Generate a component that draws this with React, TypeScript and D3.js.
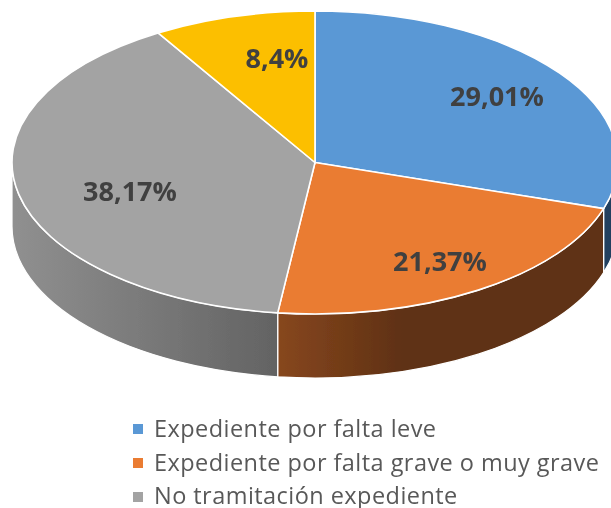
import React from "react";
import * as d3 from "d3";

const categories = ["Expediente por falta leve", "Expediente por falta grave o muy grave", "No tramitación expediente", "Otros"];
const values = [29.01, 21.37, 38.17, 8.4];
const valueLabels = ["29,01%", "21,37%", "38,17%", "8,4%"];
const colors = ["#5a98d5", "#ea7b31", "#a3a3a3", "#fcbf00"];
const wallStops = [
  ["#21405e", "#21405e"],
  ["#87471f", "#5f3112"],
  ["#909090", "#636363"],
  ["#997300", "#997300"],
];
const labelPos = [[497, 96], [440, 261], [130, 191], [277, 58]];
const legendY = [429, 463, 497];
const legendBaseline = [436.5, 470.5, 503.6];

const W = 611, H = 508;
const cx = 315, cy = 162.5, rx = 303, ry = 151.5, depth = 64;

const px = (a: number) => cx + rx * Math.sin(a);
const py = (a: number) => cy - ry * Math.cos(a);

export default function App() {
  const arcs = d3.pie<number>().sort(null)(values);
  const q = Math.PI / 2;
  return (
    <svg width={W} height={H} style={{ position: "fixed", left: 0, top: 0, background: "#fff" }}>
      <defs>
        <filter id="soft" x="-5%" y="-5%" width="110%" height="110%">
          <feGaussianBlur stdDeviation="0.45" />
        </filter>
        {arcs.map((d, i) => {
          const s = Math.max(d.startAngle, q), e = Math.min(d.endAngle, 3 * q);
          if (s >= e) return null;
          const x1 = Math.min(px(s), px(e)), x2 = Math.max(px(s), px(e));
          return (
            <linearGradient key={i} id={`w${i}`} gradientUnits="userSpaceOnUse"
              x1={i === 1 ? px(e) : x1} x2={i === 1 ? px(e) + 125 : x2} y1={0} y2={0}>
              <stop offset="0" stopColor={wallStops[i][0]} />
              <stop offset="1" stopColor={wallStops[i][1]} />
            </linearGradient>
          );
        })}
      </defs>
      <g filter="url(#soft)">
        {arcs.map((d, i) => {
          const s = Math.max(d.startAngle, q), e = Math.min(d.endAngle, 3 * q);
          if (s >= e) return null;
          const p = `M${px(s)},${py(s)}A${rx},${ry} 0 0 1 ${px(e)},${py(e)}L${px(e)},${py(e) + depth}A${rx},${ry} 0 0 0 ${px(s)},${py(s) + depth}Z`;
          return <path key={i} d={p} fill={`url(#w${i})`} stroke="#fff" strokeWidth={1.2} />;
        })}
        {arcs.map((d, i) => {
          const large = d.endAngle - d.startAngle > Math.PI ? 1 : 0;
          const p = `M${cx},${cy}L${px(d.startAngle)},${py(d.startAngle)}A${rx},${ry} 0 ${large} 1 ${px(d.endAngle)},${py(d.endAngle)}Z`;
          return <path key={i} d={p} fill={colors[i]} stroke="#fff" strokeWidth={1.6} strokeLinejoin="round" />;
        })}
        {valueLabels.map((t, i) => (
          <text key={i} x={labelPos[i][0]} y={labelPos[i][1]} dy="0.36em" textAnchor="middle"
            fontFamily="'Open Sans', sans-serif" fontWeight={700} fontSize={27} fill="#404040">{t}</text>
        ))}
        {categories.slice(0, 3).map((c, i) => (
          <g key={i}>
            <rect x={133} y={legendY[i] - 5} width={10} height={10} fill={colors[i]} />
            <text x={154} y={legendBaseline[i]} fontFamily="'Open Sans', sans-serif" fontSize={23.5} letterSpacing={0.45} fill="#595959">{c}</text>
          </g>
        ))}
      </g>
    </svg>
  );
}
